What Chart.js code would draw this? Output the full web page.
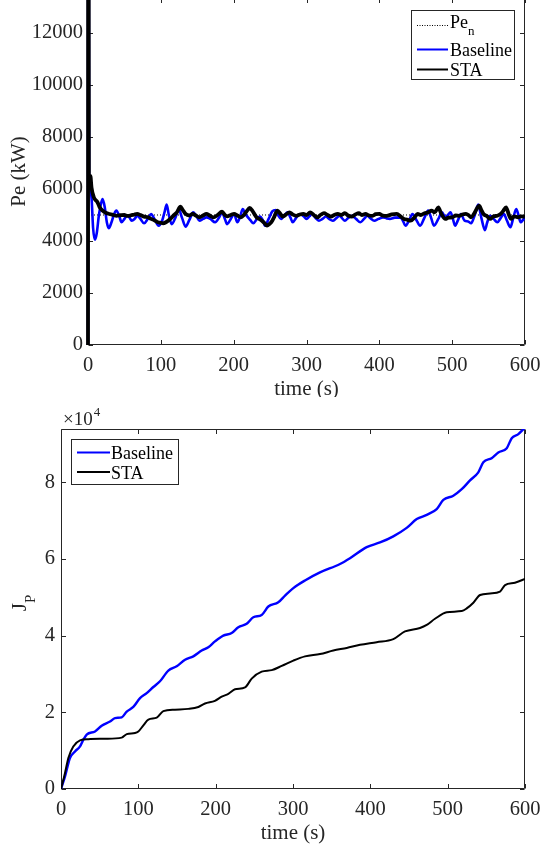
<!DOCTYPE html>
<html><head><meta charset="utf-8">
<script src="https://cdn.jsdelivr.net/npm/chart.js@4"></script>
<style>
html,body{margin:0;padding:0;background:#fff;}
#wrap1{position:absolute;left:0;top:0;width:541px;height:397px;overflow:hidden;}
#c1{position:absolute;left:0;top:-2px;}
#wrap2{position:absolute;left:0;top:397px;width:541px;height:450px;overflow:hidden;}
#c2{position:absolute;left:0;top:0;}
</style></head><body>
<div id="wrap1"><canvas id="c1" width="541" height="422"></canvas></div>
<div id="wrap2"><canvas id="c2" width="541" height="450"></canvas></div>
<script>
// ---- tick values ----
const timeTicks = [0, 100, 200, 300, 400, 500, 600];
const peTicks = [0, 2000, 4000, 6000, 8000, 10000, 12000];
const jpTicks = [0, 20000, 40000, 60000, 80000];

// ---- top panel: electrical power Pe (kW) ----
const penTime = [0, 600];
const penValue = [5000, 5000];

const baseTime = [0,0.4,1.5,3,5,7,9.5,12,15,18,20,23,26,28.5,32,36,39,43,46,50,53,57,60,64,67.5,72,77,82,86.5,92,97,102,105,108,111,115,120,124.5,129,134,139,144.5,149,153,158,162.6,168,174.5,180,184,188,191,196,200.6,205,209,212.5,216,219.6,223,227,232,236,240,243,248,253,257.7,261,265,270,274,278,281,286,291,296,300,304,307.6,312,317,322,326.6,331,336,341,345.6,349,352.7,357,362,368,374,379,383.6,388,393,399,405,410,414.5,421,428.8,432,436,441,445.5,451,456,462,467,471,475,481,486,490.6,494,497.7,501,504,508,512,517,522,526,531,535.8,540,545,548,552,557,562,567,571,575,580,584,588,591,594,597,600];
const basePower = [0,30000,6300,6000,5600,4500,4050,4300,5000,5450,5610,5300,4700,4490,4700,5050,5170,4950,4720,4850,4970,4900,4780,4850,4970,4850,4680,4850,5040,4800,4590,4800,5100,5400,5000,4650,4900,5230,4900,4550,4800,5100,4950,4780,4850,4910,4850,4720,4900,5100,4850,4650,4850,5040,4720,4950,5230,5050,4910,4800,4680,4850,4940,4800,4590,4850,5140,5190,5000,4850,5000,5100,4900,4720,4900,5040,4950,4850,4950,5040,4900,4780,4850,4940,4850,4780,4880,4970,4870,4780,4880,4970,4850,4720,4850,4970,4870,4780,4850,4910,4870,4850,4900,4910,4800,4590,4800,5040,4800,4590,4900,5170,4900,4590,4850,5100,4910,5000,5100,4850,4590,4800,5040,4780,4750,4680,5000,5400,4900,4420,4700,4970,4850,4720,4900,5040,4800,4530,4900,5230,5000,4720,4800,4910];

const staTime = [0,0.5,1.3,2,3.3,4.8,8,13,16,20,25,29.5,35,39,45,50,54,58,63,67.5,72,77,82,86.5,91,96,100,103,107,110,114,117,122,127,130,134,139,143.6,148,153,158,162.6,167,172,178,184,188,191,196,200.6,205,210,214,218,222,226,231.5,235,238.7,242,245.8,249,253,256,260,264,267,271,276.7,281,286,291,295.7,300,305,310,314.7,319,324,329,333.7,338,343,348,352.7,357,362,367,371.8,376,381,386,390.8,395,400,405,410,417,424,429,433.6,438,443,448,452.6,457,462,467,471.6,476,481,485,490.6,495,500,505,509.6,514,519,523,526,530,534,537,540,543,548,552,557,562,567,570,574,578,581,585,590.5,595,600];
const staPower = [0,30000,6200,6450,6500,6060,5680,5490,5300,5170,5080,5040,5000,4970,4990,5000,4970,4980,5010,5040,5000,4940,4920,4850,4800,4720,4700,4680,4720,4780,4880,4970,5100,5320,5200,5040,4980,5040,4980,4910,4980,5040,4980,4910,5000,5130,5000,4950,5000,5040,4980,4910,5000,5150,5270,5150,4910,4850,4780,4700,4590,4650,4780,4950,5170,5050,4940,5000,5100,5020,4970,5020,5040,5000,5100,5000,4910,5000,5070,5000,4940,5000,5040,5000,5070,4980,4940,5020,5070,5000,5040,4980,4970,5030,5040,4980,4970,5020,5040,4950,4850,4820,4780,4900,5040,5000,5070,5100,5170,5100,5290,5050,4850,4900,4910,4980,4970,5020,5040,4980,4910,5050,5250,5360,5200,5040,4950,4850,4950,4970,5050,5150,5290,5000,4850,4950,4910,4950,4930];

// ---- bottom panel: cost J_P ----
const jBaseTime = [0,5.2,11.6,18.1,24.6,28,33.2,44,52.6,63.4,69.8,78.5,85,93.5,102.2,110.8,119.4,128,138.8,149.6,160.4,171.1,181.9,190.5,199.1,209.9,220.7,229.3,240.1,248.7,259.5,268.1,281,290,300.4,315.5,334.9,360.8,373.7,395.3,412.5,429.7,447,460,472.9,485.8,494.4,507.3,518.2,528.9,539.6,546.1,556.9,565.5,576.4,582.8,591,600];
const jBaseValue = [0,3300,8100,9800,11100,12500,14200,15000,16500,17600,18500,18700,20200,21400,23700,25000,26600,28100,30900,32000,33700,34600,36100,37000,38500,40000,40700,42200,43100,44800,45400,47600,48700,50500,52400,54400,56500,58700,60200,63100,64300,65900,68100,70400,71500,73000,75400,76500,78200,80500,82600,85200,86300,87800,88900,91500,92500,94300];

const jStaTime = [0,5.2,9.5,15.9,24.6,35.3,57,78.5,85,95.7,100,106.5,113,123.8,132.3,147.4,164.6,177.6,186.2,199,207.8,216.4,225,238,246.6,259.5,272.5,285.4,300.4,315.5,334.9,352.1,369.5,386.7,408.2,429.7,444.8,464.2,472.9,483.6,498.8,518.2,524.6,533.2,541.9,554.8,567.7,574.2,587,600];
const jStaValue = [0,4200,8100,11100,12700,13000,13100,13400,14300,14600,15000,16600,18100,18600,20300,20700,20900,21400,22300,23000,24100,24800,26000,26500,28800,30600,31000,32100,33500,34600,35200,36100,36800,37600,38300,39100,41100,42000,42800,44400,46100,46400,47100,48600,50600,51000,51500,53200,53800,54800];

const FONT = '"Liberation Serif", "Times New Roman", serif';
const AX = '#262626';
const TICK_SIZE = 20.5;
const TITLE_SIZE = 21;
const pts = (t, v) => t.map((x, i) => ({x: x, y: v[i]}));

const frameTicks = {
  id: 'frameTicks',
  beforeDatasetsDraw(chart) {
    const {ctx, chartArea: a, scales: {x, y}} = chart;
    const L = Math.round(a.left) + 0.5, R = Math.round(a.right) - 0.5;
    const T = Math.round(a.top) + 0.5, B = Math.round(a.bottom) - 0.5;
    const tl = 4.5;
    ctx.save();
    ctx.strokeStyle = AX; ctx.lineWidth = 1;
    ctx.beginPath();
    ctx.moveTo(L, T); ctx.lineTo(L, B); ctx.lineTo(R, B); ctx.lineTo(R, T); ctx.lineTo(L, T);
    x.ticks.forEach(tk => {
      const px = Math.round(x.getPixelForValue(tk.value)) + 0.5;
      ctx.moveTo(px, B); ctx.lineTo(px, B - tl);
      ctx.moveTo(px, T); ctx.lineTo(px, T + tl);
    });
    y.ticks.forEach(tk => {
      const py = Math.round(y.getPixelForValue(tk.value)) + 0.5;
      ctx.moveTo(L, py); ctx.lineTo(L + tl, py);
      ctx.moveTo(R, py); ctx.lineTo(R - tl, py);
    });
    ctx.stroke();
    ctx.restore();
  }
};

function legendRow(ctx, x1, x2, ly, color, width, dash, text, tx, ty, sub) {
  ctx.save();
  ctx.strokeStyle = color; ctx.lineWidth = width; ctx.setLineDash(dash);
  ctx.beginPath(); ctx.moveTo(x1, ly); ctx.lineTo(x2, ly); ctx.stroke();
  ctx.restore();
  ctx.fillStyle = '#000';
  ctx.font = '18px ' + FONT;
  ctx.textBaseline = 'alphabetic'; ctx.textAlign = 'left';
  ctx.fillText(text, tx, ty);
  if (sub) {
    const w = ctx.measureText(text).width;
    ctx.font = '13px ' + FONT;
    ctx.fillText(sub, tx + w, ty + 7.5);
  }
}

const topDeco = {
  id: 'topDeco',
  afterDraw(chart) {
    const ctx = chart.ctx;
    ctx.save();
    ctx.fillStyle = '#fff'; ctx.fillRect(411, 12, 104, 70);
    ctx.strokeStyle = AX; ctx.lineWidth = 1; ctx.strokeRect(411.5, 12.5, 103, 69);
    legendRow(ctx, 417, 448, 27.5, '#000', 1, [1, 1.5], 'Pe', 450, 29.5, 'n');
    legendRow(ctx, 417, 448, 51.5, '#0000ff', 2, [], 'Baseline', 450, 58, null);
    legendRow(ctx, 417, 448, 71.5, '#000', 2, [], 'STA', 450, 77.5, null);
    ctx.restore();
  }
};

const bottomDeco = {
  id: 'bottomDeco',
  afterDraw(chart) {
    const ctx = chart.ctx;
    ctx.save();
    ctx.fillStyle = '#fff'; ctx.fillRect(71, 42, 108, 46);
    ctx.strokeStyle = AX; ctx.lineWidth = 1; ctx.strokeRect(71.5, 42.5, 107, 45);
    legendRow(ctx, 77, 110, 55.5, '#0000ff', 2, [], 'Baseline', 111, 61.5, null);
    legendRow(ctx, 77, 110, 75, '#000', 2, [], 'STA', 111, 82, null);
    // exponent label
    ctx.fillStyle = AX; ctx.textAlign = 'left'; ctx.textBaseline = 'alphabetic';
    ctx.font = '19px ' + FONT;
    ctx.fillText('\u00d710', 63, 28);
    const w = ctx.measureText('\u00d710').width;
    ctx.font = '13px ' + FONT;
    ctx.fillText('4', 63 + w + 1, 19);
    // y title J_P
    ctx.translate(26, 206); ctx.rotate(-Math.PI / 2);
    ctx.font = '21px ' + FONT;
    const wJ = ctx.measureText('J').width;
    ctx.font = '15px ' + FONT;
    const wP = ctx.measureText('P').width;
    const s = -(wJ + wP) / 2;
    ctx.font = '21px ' + FONT;
    ctx.fillText('J', s, 0);
    ctx.font = '15px ' + FONT;
    ctx.fillText('P', s + wJ, 9);
    ctx.restore();
  }
};

function xScale(h, titlePadBottom) {
  return {
    type: 'linear', min: 0, max: 600,
    afterBuildTicks: s => { s.ticks = timeTicks.map(v => ({value: v})); },
    afterFit: s => { s.height = h; s.paddingLeft = 0; s.paddingRight = 0; },
    grid: {display: false, drawTicks: false}, border: {display: false},
    ticks: {color: AX, font: {family: FONT, size: TICK_SIZE}, padding: 8, maxRotation: 0, autoSkip: false, callback: v => String(v)},
    title: {display: true, text: 'time (s)', color: AX, font: {family: FONT, size: TITLE_SIZE}, padding: {top: 0, bottom: titlePadBottom}}
  };
}

const spikeClip = {left: 3, top: 0, right: 0, bottom: 0};

new Chart(document.getElementById('c1'), {
  type: 'line',
  data: {datasets: [
    {label: 'Pe_n', data: pts(penTime, penValue), borderColor: '#000', borderWidth: 1, borderDash: [1, 2], pointRadius: 0, order: 2},
    {label: 'Baseline', data: pts(baseTime, basePower), borderColor: '#0000ff', borderWidth: 2.6, pointRadius: 0, cubicInterpolationMode: 'monotone', order: 1, clip: spikeClip},
    {label: 'STA', data: pts(staTime, staPower), borderColor: '#000', borderWidth: 3.8, pointRadius: 0, cubicInterpolationMode: 'monotone', order: 0, clip: spikeClip}
  ]},
  options: {
    responsive: false, animation: false, devicePixelRatio: 1,
    layout: {padding: {left: 0, right: 16, top: 0, bottom: 0}},
    plugins: {legend: {display: false}, tooltip: {enabled: false}},
    scales: {
      x: xScale(75, 18),
      y: {
        min: 0, max: 13346,
        afterBuildTicks: s => { s.ticks = peTicks.map(v => ({value: v})); },
        afterFit: s => { s.width = 88; s.paddingTop = 0; s.paddingBottom = 0; },
        grid: {display: false, drawTicks: false}, border: {display: false},
        ticks: {color: AX, font: {family: FONT, size: TICK_SIZE}, padding: 5, callback: v => String(v)},
        title: {display: true, text: 'Pe (kW)', color: AX, font: {family: FONT, size: TITLE_SIZE}, padding: {top: 7, bottom: 0}}
      }
    }
  },
  plugins: [frameTicks, topDeco]
});

new Chart(document.getElementById('c2'), {
  type: 'line',
  data: {datasets: [
    {label: 'Baseline', data: pts(jBaseTime, jBaseValue), borderColor: '#0000ff', borderWidth: 2.4, pointRadius: 0, cubicInterpolationMode: 'monotone', order: 1},
    {label: 'STA', data: pts(jStaTime, jStaValue), borderColor: '#000', borderWidth: 2, pointRadius: 0, cubicInterpolationMode: 'monotone', order: 0}
  ]},
  options: {
    responsive: false, animation: false, devicePixelRatio: 1,
    layout: {padding: {left: 0, right: 16, top: 32, bottom: 0}},
    plugins: {legend: {display: false}, tooltip: {enabled: false}},
    scales: {
      x: xScale(58, 1),
      y: {
        min: 0, max: 93900,
        afterBuildTicks: s => { s.ticks = jpTicks.map(v => ({value: v})); },
        afterFit: s => { s.width = 61; s.paddingTop = 0; s.paddingBottom = 0; },
        grid: {display: false, drawTicks: false}, border: {display: false},
        ticks: {color: AX, font: {family: FONT, size: TICK_SIZE}, padding: 6, callback: v => String(v / 10000)},
        title: {display: false}
      }
    }
  },
  plugins: [frameTicks, bottomDeco]
});
</script>
</body></html>
